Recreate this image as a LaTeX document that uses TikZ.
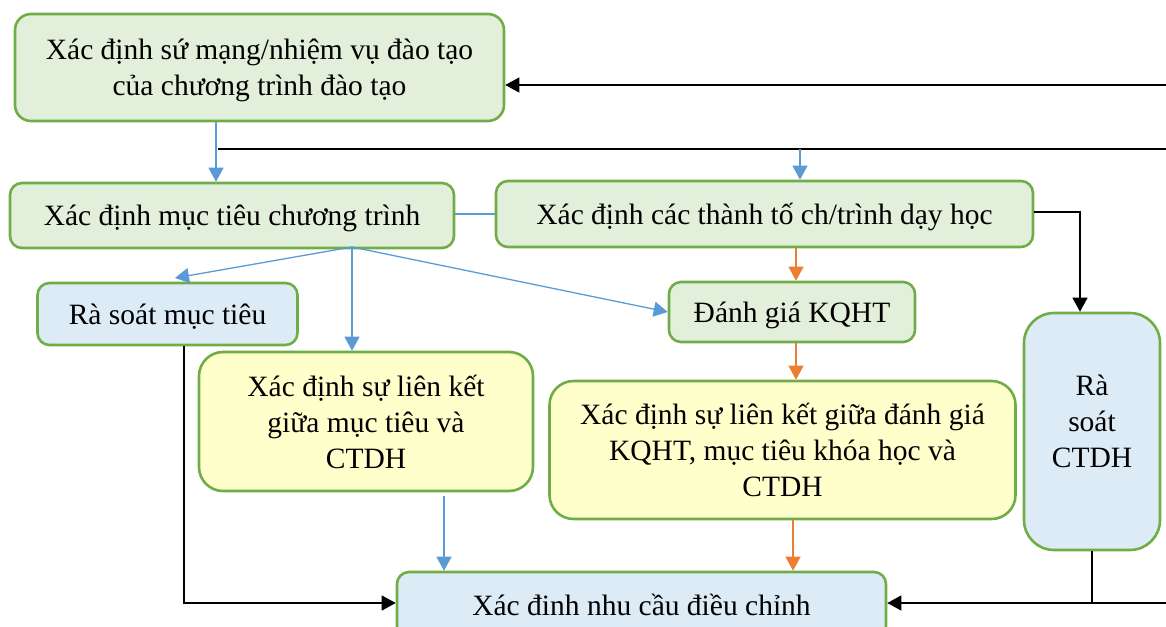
\documentclass[tikz,border=0pt]{standalone}
\usepackage{fontspec}
\setmainfont{Liberation Serif}
\usetikzlibrary{arrows.meta}
\definecolor{gfill}{HTML}{E2EFDA}
\definecolor{bfill}{HTML}{DDEBF7}
\definecolor{yfill}{HTML}{FFFFCC}
\definecolor{gline}{HTML}{70AD47}
\definecolor{bline}{HTML}{5B9BD5}
\definecolor{oline}{HTML}{ED7D31}
\tikzset{
  box/.style={draw=gline, line width=2.6pt, rounded corners=12pt, align=center,
    inner sep=0pt, text depth=0pt, font=\fontsize{29.5}{36}\selectfont},
  greenbox/.style={box, fill=gfill},
  bluebox/.style={box, fill=bfill},
  yellowbox/.style={box, fill=yfill, rounded corners=24pt},
  tip/.style={-{Triangle[length=14pt,width=15pt]}},
  blueln/.style={draw=bline, line width=1.3pt},
  orangeln/.style={draw=oline, line width=1.3pt},
  blackln/.style={draw=black, line width=1.3pt},
}
\begin{document}
\begin{tikzpicture}[x=1pt,y=-1pt]
\useasboundingbox (0,0) rectangle (1166,626);
\clip (0,0) rectangle (1166,626);

% boxes
\node[greenbox, rounded corners=16pt, minimum width=489pt, minimum height=107pt] (mission) at (259.5,67.5)
  {Xác định sứ mạng/nhiệm vụ đào tạo\\của chương trình đào tạo};
\node[greenbox, minimum width=444pt, minimum height=65pt] (goals) at (232,215.5)
  {Xác định mục tiêu chương trình};
\node[greenbox, minimum width=537pt, minimum height=66pt] (parts) at (764.5,214)
  {Xác định các thành tố ch/trình dạy học};
\node[bluebox, minimum width=260pt, minimum height=62pt] (revgoals) at (167.5,314)
  {Rà soát mục tiêu};
\node[greenbox, minimum width=246pt, minimum height=60pt] (assess) at (792,312)
  {Đánh giá KQHT};
\node[yellowbox, minimum width=334pt, minimum height=139pt] (link1) at (366,421.5)
  {Xác định sự liên kết\\giữa mục tiêu và\\CTDH};
\node[yellowbox, minimum width=466pt, minimum height=138pt] (link2) at (782.5,450)
  {Xác định sự liên kết giữa đánh giá\\KQHT, mục tiêu khóa học và\\CTDH};
\node[bluebox, rounded corners=30pt, text depth=20pt, minimum width=136pt, minimum height=237pt] (revctdh) at (1092,431.5)
  {Rà\\soát\\CTDH};
\node[bluebox, minimum width=489pt, minimum height=66pt] (needs) at (641.5,605)
  {Xác đinh nhu cầu điều chỉnh};

% free ends at the right margin
\coordinate (r1) at (1166,85);
\coordinate (r2) at (1166,149);
\coordinate (r3) at (1166,603);
\coordinate (l2) at (218,149);
\coordinate (fan) at (352,247);
\coordinate (rg) at (175,278);

% feedback lines
\draw[blackln, tip] (r1) -- (mission.east |- r1);
\draw[blackln] (r2) -- (l2);
\draw[blackln, tip] (r3) -- (needs.east |- r3);
\draw[blackln] (revctdh.south) -- (revctdh.south |- r3);
\draw[blackln, tip] (parts.east |- 0,212) -- (1080,212) -- (1080,313 |- revctdh.north);
\draw[blackln, tip] (184,345 |- revgoals.south) -- (184,603) -- (needs.west |- 0,603);

% blue flow
\draw[blueln, tip] (216,121 |- mission.south) -- (216,184 |- goals.north);
\draw[blueln, tip] (800,149) -- (800,181 |- parts.north);
\draw[blueln] (goals.east |- 0,214) -- (parts.west |- 0,214);
\draw[blueln, tip] (fan) -- (rg);
\draw[blueln, tip] (fan) -- (fan |- link1.north);
\draw[blueln, tip] (fan) -- (assess.west);
\draw[blueln, tip] (444,496) -- (444,572 |- needs.north);

% orange flow
\draw[orangeln, tip] (796,247 |- parts.south) -- (796,282 |- assess.north);
\draw[orangeln, tip] (796,342 |- assess.south) -- (796,381 |- link2.north);
\draw[orangeln, tip] (793,519 |- link2.south) -- (793,572 |- needs.north);
\end{tikzpicture}
\end{document}
